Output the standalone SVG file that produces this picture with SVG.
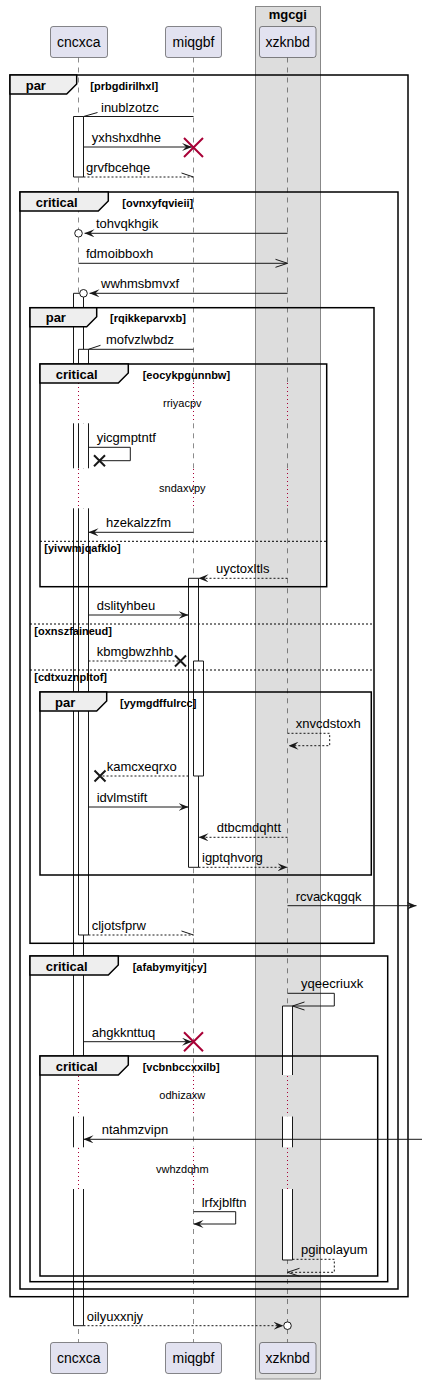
<svg xmlns="http://www.w3.org/2000/svg" width="422" height="1384" viewBox="0 0 422 1384">
<defs>
<style>
text{font-family:"Liberation Sans",Arial,sans-serif;fill:#000}
.pt{font-size:14px;text-anchor:middle}
.bt{font-size:13px;font-weight:bold;text-anchor:middle}
.m{font-size:13px}
.dt{font-size:11px;text-anchor:middle}
.fl{font-size:13px;font-weight:bold}
.fc{font-size:11px;font-weight:bold}
.part{fill:#E2E2F0;stroke:#181818;stroke-width:0.5}
.box{fill:#DDDDDD;stroke:#888;stroke-width:1}
.ll{stroke:#181818;stroke-width:0.5;stroke-dasharray:5,5;fill:none}
.dl{stroke:#A80036;stroke-width:1;stroke-dasharray:1,3;fill:none}
.af{fill:#fff;stroke:none}
.as{fill:none;stroke:#181818;stroke-width:1}
.fr{fill:none;stroke:#000;stroke-width:1.5}
.tab{fill:#EEEEEE;stroke:#000;stroke-width:1.5}
.sep{stroke:#000;stroke-width:1;stroke-dasharray:2,2}
.msg{stroke:#181818;stroke-width:1;fill:none}
.d{stroke-dasharray:2,2}
.arw{marker-end:url(#dart)}
.opn{marker-end:url(#open)}
.rx{stroke:#A80036;stroke-width:2}
.bx{stroke:#181818;stroke-width:2}
.circ{fill:#fff;stroke:#181818;stroke-width:1}
</style>
<marker id="dart" viewBox="0 0 10 8" refX="10" refY="4" markerWidth="10" markerHeight="8" orient="auto" markerUnits="userSpaceOnUse"><path d="M0,0 L10,4 L0,8 L4,4 Z" fill="#181818"/></marker>
<marker id="open" viewBox="0 0 14 10" refX="13" refY="5" markerWidth="14" markerHeight="10" orient="auto" markerUnits="userSpaceOnUse"><path d="M1,1 L13,5 L1,9" fill="none" stroke="#181818" stroke-width="1"/></marker>
</defs>
<rect width="422" height="1384" fill="#fff"/>
<g id="box-mgcgi">
<rect class="box" x="255.5" y="6.5" width="65" height="1372.5"/>
<text class="bt" x="287.8" y="19">mgcgi</text>
</g>
<g id="lifelines">
<path class="ll" d="M78.5,57.5V382M78.5,423.3V468.3M78.5,508.3V1075M78.5,1116.5V1147.3M78.5,1189V1342.5"/>
<path class="ll" d="M193.5,57.5V382M193.5,423.3V468.3M193.5,508.3V1075M193.5,1116.5V1147.3M193.5,1189V1342.5"/>
<path class="ll" d="M287.5,57.5V382M287.5,423.3V468.3M287.5,508.3V1075M287.5,1116.5V1147.3M287.5,1189V1342.5"/>
<path class="dl" d="M78.5,383V423M78.5,469V508M78.5,1076V1116M78.5,1148V1189"/>
<path class="dl" d="M193.5,383V423M193.5,469V508M193.5,1076V1116M193.5,1148V1189"/>
<path class="dl" d="M287.5,383V423M287.5,469V508M287.5,1076V1116M287.5,1148V1189"/>
</g>
<g id="cncxca">
<rect class="part" x="50.5" y="26.5" width="57" height="31" rx="2.5"/>
<text class="pt" x="78.8" y="47">cncxca</text>
<rect class="part" x="50.5" y="1342.5" width="57" height="31" rx="2.5"/>
<text class="pt" x="78.8" y="1363">cncxca</text>
</g>
<g id="miqgbf">
<rect class="part" x="165.5" y="26.5" width="56" height="31" rx="2.5"/>
<text class="pt" x="193.5" y="47">miqgbf</text>
<rect class="part" x="165.5" y="1342.5" width="56" height="31" rx="2.5"/>
<text class="pt" x="193.5" y="1363">miqgbf</text>
</g>
<g id="xzknbd">
<rect class="part" x="259.5" y="26.5" width="56.5" height="31" rx="2.5"/>
<text class="pt" x="287.7" y="47">xzknbd</text>
<rect class="part" x="259.5" y="1342.5" width="56.5" height="31" rx="2.5"/>
<text class="pt" x="287.7" y="1363">xzknbd</text>
</g>
<g id="activations">
<rect class="af" x="73.5" y="116.5" width="10" height="60.5"/><path class="as" d="M73.5,116.5H83.5V177H73.5Z"/>
<rect class="af" x="73.5" y="293.3" width="10" height="88.7"/><path class="as" d="M73.5,382V293.3H83.5V382"/>
<rect class="af" x="73.5" y="423.3" width="10" height="45"/><path class="as" d="M73.5,423.3V468.3M83.5,423.3V468.3"/>
<rect class="af" x="73.5" y="508.3" width="10" height="566.7"/><path class="as" d="M73.5,508.3V1075M83.5,508.3V1075"/>
<rect class="af" x="73.5" y="1116.5" width="10" height="30.8"/><path class="as" d="M73.5,1116.5V1147.3M83.5,1116.5V1147.3"/>
<rect class="af" x="73.5" y="1189" width="10" height="136.7"/><path class="as" d="M73.5,1189V1325.7H83.5V1189"/>
<rect class="af" x="78.5" y="349.3" width="10" height="32.7"/><path class="as" d="M78.5,382V349.3H88.5V382"/>
<rect class="af" x="78.5" y="423.3" width="10" height="45"/><path class="as" d="M78.5,423.3V468.3M88.5,423.3V468.3"/>
<rect class="af" x="78.5" y="508.3" width="10" height="426.7"/><path class="as" d="M78.5,508.3V935H88.5V508.3"/>
<rect class="af" x="188.5" y="578.3" width="10" height="289"/><path class="as" d="M188.5,578.3H198.5V867.3H188.5Z"/>
<rect class="af" x="193.5" y="661" width="10" height="115"/><path class="as" d="M193.5,661H203.5V776H193.5Z"/>
<rect class="af" x="282.5" y="1006" width="10" height="69"/><path class="as" d="M282.5,1075V1006H292.5V1075"/>
<rect class="af" x="282.5" y="1116.5" width="10" height="30.8"/><path class="as" d="M282.5,1116.5V1147.3M292.5,1116.5V1147.3"/>
<rect class="af" x="282.5" y="1189" width="10" height="71"/><path class="as" d="M282.5,1189V1260H292.5V1189"/>
</g>
<g id="frame-par-prbgdirilhxl">
<rect class="fr" x="10" y="75" width="398" height="1221.7"/>
<polygon class="tab" points="10,75 76.7,75 76.7,84 66.7,94 10,94"/>
<text class="fl" x="25.7" y="89.5">par</text>
<text class="fc" x="90.3" y="89.5">[prbgdirilhxl]</text>
</g>
<g id="frame-critical-ovnxyfqvieii">
<rect class="fr" x="20" y="192" width="378" height="1097"/>
<polygon class="tab" points="20,192 108.3,192 108.3,201 98.3,211 20,211"/>
<text class="fl" x="35.7" y="206.5">critical</text>
<text class="fc" x="122.3" y="206.5">[ovnxyfqvieii]</text>
</g>
<g id="frame-par-rqikkeparvxb">
<rect class="fr" x="30" y="307.7" width="344" height="635.6"/>
<polygon class="tab" points="30,307.7 96.7,307.7 96.7,316.7 86.7,326.7 30,326.7"/>
<text class="fl" x="45.7" y="322.2">par</text>
<text class="fc" x="110" y="322.2">[rqikkeparvxb]</text>
<line class="sep" x1="30" y1="624" x2="374" y2="624"/>
<text class="fc" x="34.3" y="635">[oxnszfaineud]</text>
<line class="sep" x1="30" y1="670" x2="374" y2="670"/>
<text class="fc" x="34.3" y="681">[cdtxuznpltof]</text>
</g>
<g id="frame-critical-eocykpgunnbw">
<rect class="fr" x="40" y="364" width="286.7" height="222.7"/>
<polygon class="tab" points="40,364 128.3,364 128.3,373 118.3,383 40,383"/>
<text class="fl" x="55.7" y="378.5">critical</text>
<text class="fc" x="142.7" y="378.5">[eocykpgunnbw]</text>
<line class="sep" x1="40" y1="541.3" x2="326.7" y2="541.3"/>
<text class="fc" x="44.3" y="552.3">[yivwmjqafklo]</text>
</g>
<g id="frame-par-yymgdffulrcc">
<rect class="fr" x="40" y="692" width="331.3" height="183"/>
<polygon class="tab" points="40,692 106.7,692 106.7,701 96.7,711 40,711"/>
<text class="fl" x="55" y="706.5">par</text>
<text class="fc" x="120" y="706.5">[yymgdffulrcc]</text>
</g>
<g id="frame-critical-afabymyitjcy">
<rect class="fr" x="30" y="956" width="357.7" height="325.7"/>
<polygon class="tab" points="30,956 118.3,956 118.3,965 108.3,975 30,975"/>
<text class="fl" x="45.7" y="970.5">critical</text>
<text class="fc" x="132.7" y="970.5">[afabymyitjcy]</text>
</g>
<g id="frame-critical-vcbnbccxxilb">
<rect class="fr" x="40" y="1056" width="337.7" height="220"/>
<polygon class="tab" points="40,1056 128.3,1056 128.3,1065 118.3,1075 40,1075"/>
<text class="fl" x="55.7" y="1070.5">critical</text>
<text class="fc" x="142.7" y="1070.5">[vcbnbccxxilb]</text>
</g>
<g id="delays">
<text class="dt" x="182.3" y="406.5">rriyacpv</text>
<text class="dt" x="182.3" y="491.7">sndaxvpy</text>
<text class="dt" x="182.3" y="1099.3">odhizaxw</text>
<text class="dt" x="182.3" y="1172.7">vwhzdqhm</text>
</g>
<g id="connectors">
<line class="msg" x1="193.5" y1="116.5" x2="83.5" y2="116.5"/>
<line class="msg" x1="83.5" y1="116.5" x2="97.5" y2="112.5"/>
<text class="m" x="101" y="111.5">inublzotzc</text>

<line class="msg arw" x1="83.5" y1="147" x2="192" y2="147"/>
<path class="rx" d="M184,138L203,157M184,157L203,138"/>
<text class="m" x="91.7" y="142">yxhshxdhhe</text>

<line class="msg d" x1="83.5" y1="177" x2="193.5" y2="177"/>
<line class="msg" x1="193.5" y1="177" x2="181.5" y2="173"/>
<text class="m" x="86" y="172">grvfbcehqe</text>

<line class="msg arw" x1="287.5" y1="233.3" x2="84.5" y2="233.3"/>
<circle class="circ" cx="78.5" cy="233.3" r="3.8"/>
<text class="m" x="96" y="228.3">tohvqkhgik</text>

<line class="msg opn" x1="78.5" y1="263.3" x2="287.5" y2="263.3"/>
<text class="m" x="86" y="258.3">fdmoibboxh</text>

<line class="msg arw" x1="287.5" y1="293.3" x2="89.5" y2="293.3"/>
<circle class="circ" cx="83.5" cy="293.3" r="3.8"/>
<text class="m" x="101" y="288.3">wwhmsbmvxf</text>

<line class="msg" x1="193.5" y1="349.3" x2="88.5" y2="349.3"/>
<line class="msg" x1="88.5" y1="349.3" x2="100.5" y2="345.3"/>
<text class="m" x="106" y="344.3">mofvzlwbdz</text>

<path class="msg" d="M88.5,447.3H130.3V460.7H99.5"/>
<path class="bx" d="M94,455.2L105,466.2M94,466.2L105,455.2"/>
<text class="m" x="96.7" y="442.3">yicgmptntf</text>

<line class="msg arw" x1="193.5" y1="532.3" x2="88.5" y2="532.3"/>
<text class="m" x="106" y="527.3">hzekalzzfm</text>

<line class="msg d arw" x1="287.5" y1="578.3" x2="198.5" y2="578.3"/>
<text class="m" x="216" y="573.3">uyctoxltls</text>

<line class="msg arw" x1="88.5" y1="615" x2="188.5" y2="615"/>
<text class="m" x="96.7" y="610">dslityhbeu</text>

<line class="msg d" x1="88.5" y1="661" x2="180.5" y2="661"/>
<path class="bx" d="M175,655.5L186,666.5M175,666.5L186,655.5"/>
<text class="m" x="96.7" y="656">kbmgbwzhhb</text>

<path class="msg d arw" d="M287.5,733.3H329.7V745.7H288.5"/>
<text class="m" x="295.7" y="728.3">xnvcdstoxh</text>

<line class="msg d" x1="188.5" y1="776" x2="100" y2="776"/>
<path class="bx" d="M94.5,770.5L105.5,781.5M94.5,781.5L105.5,770.5"/>
<text class="m" x="106.7" y="771">kamcxeqrxo</text>

<line class="msg arw" x1="88.5" y1="807" x2="188.5" y2="807"/>
<text class="m" x="96.7" y="802">idvlmstift</text>

<line class="msg d arw" x1="287.5" y1="837.3" x2="198.5" y2="837.3"/>
<text class="m" x="216.7" y="832.3">dtbcmdqhtt</text>

<line class="msg d arw" x1="198.5" y1="867.3" x2="287.5" y2="867.3"/>
<text class="m" x="202" y="862.3">igptqhvorg</text>

<line class="msg arw" x1="287.5" y1="905.7" x2="416.5" y2="905.7"/>
<text class="m" x="295.7" y="900.7">rcvackqgqk</text>

<line class="msg d" x1="88.5" y1="935" x2="193.5" y2="935"/>
<line class="msg" x1="193.5" y1="935" x2="181.5" y2="931"/>
<text class="m" x="91.7" y="930">cljotsfprw</text>

<path class="msg opn" d="M287.5,993.3H334.3V1006H292.5"/>
<text class="m" x="301" y="988.3">yqeecriuxk</text>

<line class="msg arw" x1="83.5" y1="1041.7" x2="192" y2="1041.7"/>
<path class="rx" d="M184,1032.2L203,1051.2M184,1051.2L203,1032.2"/>
<text class="m" x="91.7" y="1036.7">ahgkknttuq</text>

<line class="msg arw" x1="422" y1="1139.3" x2="83.5" y2="1139.3"/>
<text class="m" x="101.7" y="1134.3">ntahmzvipn</text>

<path class="msg arw" d="M193.5,1211.7H235.7V1224H193.5"/>
<text class="m" x="201.7" y="1206.7">lrfxjblftn</text>

<path class="msg d opn" d="M292.5,1259.3H334.3V1272.3H287.5"/>
<text class="m" x="301" y="1254.3">pginolayum</text>

<line class="msg d arw" x1="83.5" y1="1325.7" x2="283.5" y2="1325.7"/>
<circle class="circ" cx="287.5" cy="1325.7" r="3.8"/>
<text class="m" x="86.7" y="1320.7">oilyuxxnjy</text>
</g>
</svg>
